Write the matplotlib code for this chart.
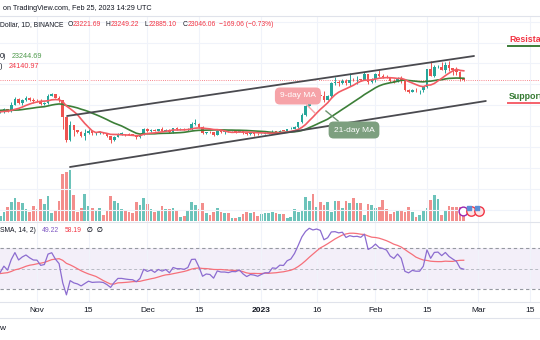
import numpy as np
import pandas as pd
import matplotlib
matplotlib.use("Agg")
import matplotlib.pyplot as plt
import matplotlib.dates as mdates
import matplotlib.transforms as mtransforms
from matplotlib.lines import Line2D

plt.rcParams['font.family'] = ['Liberation Sans', 'DejaVu Sans']

# ---------------- data ----------------
start_date = '2022-10-22'
end_date = '2023-02-25'

opens = [19165, 19204, 19570, 19330, 20080, 20770, 20290, 20600, 20810, 20630,
         20490, 20480, 20150, 20210, 21150, 21300, 20900, 20590, 18540, 15880,
         17590, 17060, 16810, 16330, 16620, 16900, 16660, 16690, 16700, 16630,
         16280, 15780, 16230, 16600, 16600, 16520, 16460, 16430, 16210, 16440,
         17170, 16970, 17090, 16880, 17110, 16970, 17090, 16830, 17220, 17130,
         17130, 17090, 17200, 17780, 17800, 17350, 16630, 16780, 16740, 16440,
         16900, 16820, 16820, 16780, 16840, 16830, 16920, 16700, 16540, 16630, 16600,
         16540, 16610, 16670, 16670, 16850, 16830, 16950, 16940, 17120, 17190,
         17440, 17940, 18850, 19930, 20950, 20870, 21190, 21130, 20680, 21070,
         22670, 22780, 22710, 22920, 22630, 23060, 23010, 23080, 23030, 23740, 22830,
         23130, 23730, 23490, 23430, 23330, 22930, 22760, 23260, 22960, 21800,
         21630, 21860, 21780, 21780, 22200, 24330, 23520, 24570, 24630, 24280,
         24840, 24440, 24180, 23940, 23221.69]
highs = [19250, 19695, 19600, 20410, 21020, 20870, 20750, 21080, 20930, 20840,
         20700, 20800, 20390, 21300, 21480, 21370, 21070, 20670, 18590, 18150,
         17660, 17070, 16950, 17190, 17130, 17000, 16750, 16960, 16820, 16720,
         16290, 16300, 16720, 16810, 16610, 16700, 16600, 16480, 16530, 17250,
         17320, 17110, 17150, 17200, 17430, 17110, 17140, 17300, 17360, 17230,
         17270, 17240, 18000, 18390, 17850, 17530, 16800, 16860, 16820, 17060,
         16920, 16870, 16960, 16860, 16860, 16950, 16970, 16780, 16660, 16650, 16640,
         16630, 16760, 16760, 16990, 16880, 17040, 16970, 17180, 17400, 17490,
         18000, 19100, 19970, 21260, 20990, 21440, 21610, 21650, 21190, 22750,
         23380, 23080, 23170, 23160, 23820, 23290, 23500, 23170, 23960, 23800, 23310,
         23810, 24260, 23710, 23590, 23430, 23160, 23360, 23450, 23010, 21950,
         21900, 22090, 21880, 22320, 24380, 25250, 24860, 24770, 25190, 25120,
         25250, 24480, 24600, 24130, 23249.22]
lows = [19115, 19070, 19160, 19240, 20060, 20200, 20000, 20550, 20510, 20230,
        20350, 20050, 20040, 20180, 21080, 20880, 20390, 17170, 15590, 15750,
        16360, 16680, 16230, 15820, 16530, 16440, 16400, 16560, 16550, 16170,
        15480, 15680, 16160, 16470, 16350, 16410, 16400, 16000, 16120, 16420,
        16850, 16790, 16870, 16870, 16880, 16900, 16680, 16730, 17060, 17090,
        17070, 16870, 17080, 17660, 17280, 16580, 16590, 16650, 16300, 16400,
        16720, 16560, 16760, 16770, 16720, 16790, 16590, 16460, 16490, 16330, 16480,
        16500, 16550, 16600, 16660, 16750, 16680, 16910, 16910, 17100, 17150,
        17320, 17910, 18700, 19900, 20550, 20610, 20860, 20400, 20660, 20870,
        22420, 22290, 22510, 22460, 22340, 22850, 22530, 22880, 22980, 22550, 22720,
        22760, 23370, 23210, 23260, 22750, 22630, 22730, 22680, 21690, 21450,
        21600, 21630, 21350, 21530, 22050, 23500, 23350, 24440, 24200, 23850,
        24150, 23580, 23610, 22860, 22885.10]
closes = [19204, 19570, 19330, 20080, 20770, 20290, 20600, 20810, 20630, 20490,
          20480, 20150, 20210, 21150, 21300, 20900, 20590, 18540, 15880, 17590,
          17060, 16810, 16330, 16620, 16900, 16660, 16690, 16700, 16630, 16280,
          15780, 16230, 16600, 16600, 16520, 16460, 16430, 16210, 16440, 17170,
          16970, 17090, 16880, 17110, 16970, 17090, 16830, 17220, 17130, 17130,
          17090, 17200, 17780, 17800, 17350, 16630, 16780, 16740, 16440, 16900,
          16820, 16820, 16780, 16840, 16830, 16920, 16700, 16540, 16630, 16600, 16540,
          16610, 16670, 16670, 16850, 16830, 16950, 16940, 17120, 17190, 17440,
          17940, 18850, 19930, 20950, 20870, 21190, 21130, 20680, 21070, 22670,
          22780, 22710, 22920, 22630, 23060, 23010, 23080, 23030, 23740, 22830, 23130,
          23730, 23490, 23430, 23330, 22930, 22760, 23260, 22960, 21800, 21630,
          21860, 21780, 21780, 22200, 24330, 23520, 24570, 24630, 24280, 24840,
          24440, 24180, 23940, 23190, 23046.06]
# daily volume (thousands)
volumes = [100, 186, 286, 386, 454, 374, 366, 240, 174, 300,
           234, 434, 334, 500, 166, 220, 406, 934, 986, 1020,
           520, 186, 266, 534, 300, 266, 220, 266, 120, 200,
           506, 400, 354, 240, 220, 186, 154, 374, 320, 454,
           334, 240, 174, 200, 306, 240, 240, 254, 200, 86,
           106, 220, 386, 320, 234, 354, 154, 120, 186, 266,
           174, 166, 166, 66, 66, 86, 140, 174, 154, 174,
           100, 140, 154, 154, 174, 154, 134, 134, 54, 86,
           234, 186, 220, 486, 400, 534, 286, 386, 320, 374,
           186, 400, 406, 266, 400, 354, 466, 366, 354, 120,
           334, 320, 266, 286, 420, 240, 134, 186, 220, 220,
           174, 286, 186, 86, 120, 200, 266, 420, 520, 434,
           120, 206, 300, 286, 286, 286, 286]
# closes before the visible window (used only to warm up the indicators)
warmup_closes = [20130, 19950, 19830, 20000, 19800, 18790, 19290, 19320, 21360, 21650,
                 21830, 22400, 20180, 20240, 19700, 19800, 20110, 19420, 19540, 18880,
                 18480, 19400, 19300, 18920, 18800, 19220, 19080, 19410, 19590, 19420,
                 19310, 19060, 19620, 20340, 20160, 19960, 19530, 19420, 19440, 19130,
                 19060, 19160, 19380, 19180, 19070, 19260, 19550, 19330, 19120, 19040, 19160]

last_price = 23046.06
tick_dates = ['2022-11-01', '2022-11-15', '2022-12-01', '2022-12-15', '2023-01-01',
              '2023-01-16', '2023-02-01', '2023-02-15', '2023-03-01', '2023-03-15']
tick_labels = ['Nov', '15', 'Dec', '15', '2023', '16', 'Feb', '15', 'Mar', '15']
price_grid = [7500, 10000, 12500, 15000, 17500, 20000, 22500, 25000, 27500, 30000]

trend_upper_dates = ['2022-11-09 04:00', '2023-02-27 19:00']
trend_upper_prices = [18711, 25899]
trend_lower_dates = ['2022-11-09 23:00', '2023-03-03 00:00']
trend_lower_prices = [12601, 20508]
event_dates = ['2023-02-24 19:00', '2023-02-27 00:00', '2023-03-01 02:00']

# ---------------- indicators ----------------
all_close = pd.Series(warmup_closes + closes, dtype=float)
n = len(closes)
ma9 = all_close.rolling(9).mean().values[-n:]
ma21 = all_close.rolling(21).mean().values[-n:]
chg = all_close.diff()
up = chg.clip(lower=0).ewm(alpha=1/14, adjust=False).mean()
dn = (-chg.clip(upper=0)).ewm(alpha=1/14, adjust=False).mean()
rsi_full = 100 - 100 / (1 + up / dn)
rsi_sma_full = rsi_full.rolling(14).mean()
rsi = rsi_full.values[-n:]
rsi_sma = rsi_sma_full.values[-n:]

# ---------------- figure ----------------
W, H = 540, 340
fig = plt.figure(figsize=(5.4, 3.4), dpi=100)
fig.patch.set_facecolor('white')

def fy(y):
    return 1 - y / H

def fx(x):
    return x / W

dates = pd.date_range(start_date, end_date, freq='D')
x = mdates.date2num(dates.to_pydatetime())
d_nov1 = mdates.date2num(pd.Timestamp('2022-11-01'))
ppd = 3.679
xlim = (d_nov1 - 37 / ppd, d_nov1 + 503 / ppd)
tick_x = mdates.date2num(pd.to_datetime(tick_dates).to_pydatetime())

UP = '#26a69a'
DN = '#ef5350'
o = np.array(opens); c = np.array(closes)
h = np.array(highs); l = np.array(lows)
cols = np.where(c >= o, UP, DN)

# volume pane (behind price)
axv = fig.add_axes([0, fy(222), 1, (222 - 16) / H])
axv.set_xlim(*xlim)
axv.set_ylim(-20, 4100)
vcols = np.where(c >= o, '#6cc3ba', '#f38e8c')
axv.bar(x, volumes, width=0.74, color=vcols, linewidth=0)
axv.axis('off')

ax = fig.add_axes([0, fy(222), 1, (222 - 16) / H])
ax.patch.set_visible(False)
ax.set_xlim(*xlim)
ax.set_ylim(6012, 30690)
ax.set_xticks(tick_x)
ax.set_yticks(price_grid)
ax.grid(True, color='#f0f3fa', lw=0.8, zorder=0)
ax.tick_params(left=False, bottom=False, labelleft=False, labelbottom=False)
for s in ax.spines.values():
    s.set_visible(False)

# candles
ax.vlines(x, l, h, colors=cols, lw=0.7, zorder=2)
body_bot = np.minimum(o, c)
body_h = np.maximum(np.abs(c - o), 70)
ax.bar(x, body_h, bottom=body_bot, width=0.7, color=cols, linewidth=0, zorder=3)

# moving averages
ax.plot(x, ma21, color='#3c7f38', lw=1.2, zorder=4)
ax.plot(x, ma9, color='#f25c64', lw=1.2, zorder=5)

# last price line
ax.axhline(last_price, color='#f23645', lw=0.6, ls=(0, (1, 1.6)), alpha=0.8, zorder=1)

# channel
tu = mdates.date2num(pd.to_datetime(trend_upper_dates).to_pydatetime())
tl = mdates.date2num(pd.to_datetime(trend_lower_dates).to_pydatetime())
ax.plot(tu, trend_upper_prices, color='#4a4a4f', lw=1.3, zorder=6, solid_capstyle='round')
ax.plot(tl, trend_lower_prices, color='#4a4a4f', lw=1.3, zorder=6, solid_capstyle='round')

# MA call-out labels
def dn_(s):
    return mdates.date2num(pd.Timestamp(s))

ax.plot([dn_('2023-01-13 09:00'), dn_('2023-01-15 13:00')], [20028, 19070],
        color='#f6a3a8', lw=1.0, zorder=7)
ax.text(dn_('2023-01-10 22:00'), 21107, '9-day MA', ha='center', va='center',
        fontsize=6.0, color='white', zorder=8,
        bbox=dict(boxstyle='round,pad=0.6,rounding_size=0.6', fc='#f6a3a8', ec='none'))
ax.plot([dn_('2023-01-21 20:00'), dn_('2023-01-18 13:00')], [18111, 19310],
        color='#6e9470', lw=1.0, zorder=7)
ax.text(dn_('2023-01-26 04:00'), 17033, '21-day MA', ha='center', va='center',
        fontsize=6.0, color='white', zorder=8,
        bbox=dict(boxstyle='round,pad=0.6,rounding_size=0.6', fc='#7d9f7f', ec='none'))

# Resistance / Support (cut by the right edge, as in the screenshot)
ax.text(dn_('2023-03-09 07:00'), 27815, 'Resistance', ha='left', va='center',
        fontsize=6.4, color='#f23645', fontweight='bold', zorder=8)
ax.plot([dn_('2023-03-09 00:00'), dn_('2023-03-20')], [27037, 27037], color='#3b7d38', lw=1.4)
ax.text(dn_('2023-03-09 07:00'), 20987, 'Support', ha='left', va='center',
        fontsize=6.4, color='#357a32', fontweight='bold', zorder=8)
ax.plot([dn_('2023-03-09 00:00'), dn_('2023-03-20')], [20268, 20268], color='#f5616b', lw=1.4)

# event icons
ev = mdates.date2num(pd.to_datetime(event_dates).to_pydatetime())
trans = mtransforms.blended_transform_factory(ax.transData, ax.transAxes)
ax.scatter(ev[:1], [0.053], s=40, transform=trans, facecolor='white', edgecolor='#9c27b0', lw=1.0, zorder=9, clip_on=False)
ax.scatter(ev[1:], [0.053, 0.053], s=46, transform=trans, facecolor='#fbe3e5', edgecolor='#f23645', lw=1.0, zorder=9, clip_on=False)
ax.scatter(ev[1:] - 0.45, [0.068, 0.068], s=6, transform=trans, marker='s', color='#5b8fd6', zorder=10, clip_on=False)

# ---------------- RSI pane ----------------
axr = fig.add_axes([0, fy(302), 1, (302 - 222) / H])
axr.set_xlim(*xlim)
axr.set_ylim(17.3, 95.4)
axr.axhspan(30, 70, color='#7e57c2', alpha=0.09, lw=0)
axr.axhline(70, color='#9598a1', lw=0.8, ls=(0, (3, 2.5)))
axr.axhline(30, color='#9598a1', lw=0.8, ls=(0, (3, 2.5)))
axr.axhline(50, color='#b8bbc4', lw=0.7, ls=(0, (3, 2.5)))
axr.plot(x, rsi_sma, color='#f6707a', lw=0.9, zorder=3)
axr.plot(x, rsi, color='#8c6cd0', lw=0.9, zorder=4)
axr.set_xticks(tick_x)
axr.set_xticklabels(tick_labels)
axr.set_yticks([])
axr.grid(True, axis='x', color='#f0f3fa', lw=0.8, zorder=0)
axr.tick_params(axis='x', length=0, pad=3.5, labelsize=6.0, colors='#131722')
for lab in axr.get_xticklabels():
    if lab.get_text() == '2023':
        lab.set_fontweight('bold')
for s in axr.spines.values():
    s.set_visible(False)

# separators
for yy in (16, 222, 302, 318):
    fig.add_artist(Line2D([0, 1], [fy(yy), fy(yy)], color='#e0e3eb', lw=0.8))

# ---------------- header texts ----------------
DARK = '#131722'
RED = '#f23645'
fs1 = 5.2
fs = 4.9
fig.text(fx(3), fy(8.3), 'on TradingView.com, Feb 25, 2023 14:29 UTC', fontsize=fs1, color=DARK, va='center')
fig.text(fx(0), fy(25), 'Dollar, 1D, BINANCE', fontsize=fs, color=DARK, va='center')
for lx, letter, vx, val in [(67.8, 'O', 72.8, '23221.69'), (105.5, 'H', 110.5, '23249.22'),
                            (144.8, 'L', 148.8, '22885.10'), (182.8, 'C', 187.6, '23046.06')]:
    fig.text(fx(lx), fy(25), letter, fontsize=fs, color=DARK, va='center')
    fig.text(fx(vx), fy(25), val, fontsize=fs, color=RED, va='center')
fig.text(fx(219), fy(25), '\u2212169.06 (\u22120.73%)', fontsize=fs, color=RED, va='center')
fig.text(fx(0), fy(56.7), '0)', fontsize=fs1, color=DARK, va='center')
fig.text(fx(11.7), fy(56.7), '23244.69', fontsize=fs1, color='#4f9a4c', va='center')
fig.text(fx(0), fy(66.7), ')', fontsize=fs1, color=DARK, va='center')
fig.text(fx(8.3), fy(66.7), '24140.97', fontsize=fs1, color=RED, va='center')

fig.text(fx(0), fy(230), 'SMA, 14, 2)', fontsize=fs, color=DARK, va='center')
fig.text(fx(42), fy(230), '49.22', fontsize=fs, color='#7e57c2', va='center')
fig.text(fx(65), fy(230), '58.19', fontsize=fs, color=RED, va='center')
fig.text(fx(87), fy(230), '\u2205', fontsize=fs, color=DARK, va='center', fontweight='bold')
fig.text(fx(97), fy(230), '\u2205', fontsize=fs, color=DARK, va='center', fontweight='bold')

fig.text(fx(-0.5), fy(329), 'w', fontsize=6.0, color=DARK, va='center')

fig.savefig('out.png', dpi=100, facecolor='white')
